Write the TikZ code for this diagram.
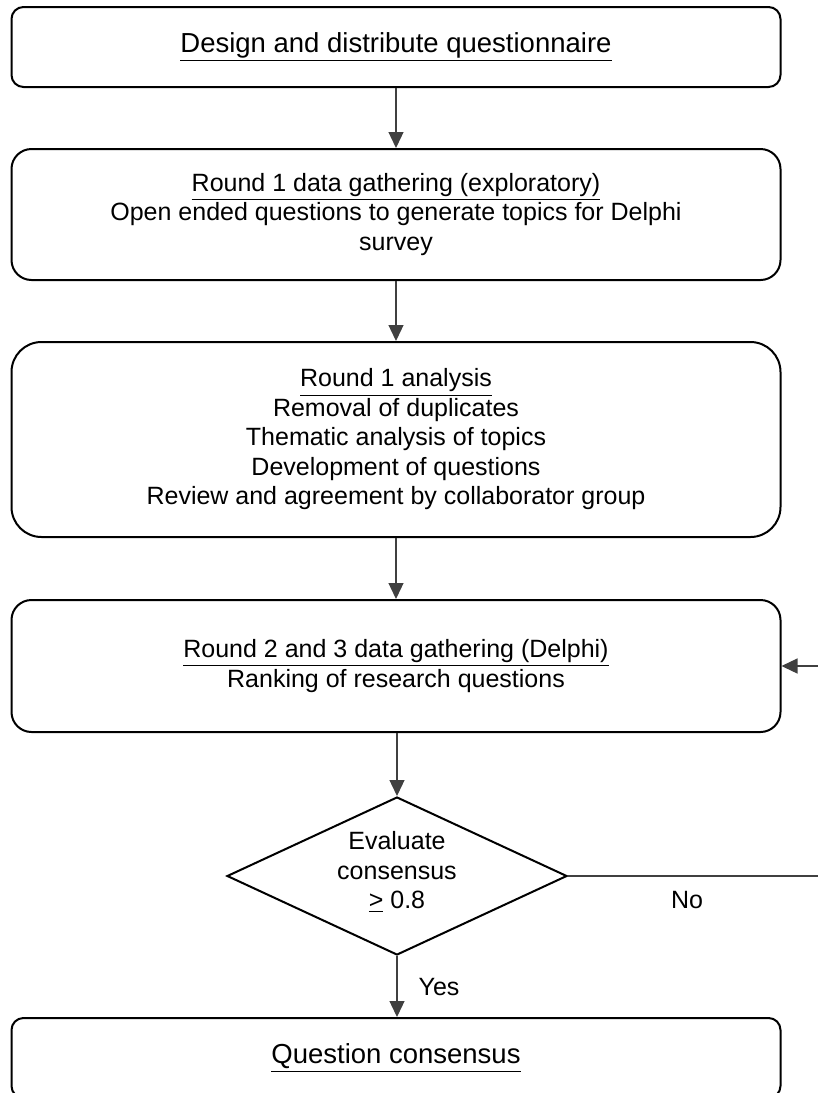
\documentclass[tikz,border=0pt]{standalone}
\usepackage{fontspec}
\setmainfont{Liberation Sans}
\usetikzlibrary{shapes.geometric,arrows.meta}

\begin{document}
\begin{tikzpicture}[x=0.5pt,y=-0.5pt]
\tikzstyle{every node}+=[inner sep=0pt,font=\fontsize{12.5}{14.75}\selectfont,align=center]
\tikzstyle{stage}=[draw=black,line width=1pt,minimum width=384.5pt]
\tikzstyle{big}=[font=\fontsize{13.75}{16}\selectfont]
\tikzstyle{arr}=[draw=black!75,line width=0.65pt,-{Triangle[width=7.5pt,length=8pt]}]
\useasboundingbox (0,0) rectangle (818,1093);
\node [stage,big,rounded corners=6pt,minimum height=40pt] (design) at (396,47) {\underline{Design and distribute questionnaire}};
\node [stage,rounded corners=10pt,minimum height=65.5pt] (rone) at (396,214.5) {\underline{Round 1 data gathering (exploratory)}\\Open ended questions to generate topics for Delphi\\survey};
\node [stage,rounded corners=15pt,minimum height=97.5pt] (ana) at (396,439.5) {\underline{Round 1 analysis}\\Removal of duplicates\\Thematic analysis of topics\\Development of questions\\Review and agreement by collaborator group};
\node [stage,rounded corners=10pt,minimum height=66pt] (rtwo) at (396,666) {\underline{Round 2 and 3 data gathering (Delphi)}\\Ranking of research questions};
\node [draw=black,line width=1pt,diamond,minimum width=170pt,minimum height=79pt] (eval) at (397,876) {};
\node (evaltxt) at (397,872) {Evaluate\\consensus\\\underline{>} 0.8};
\node [stage,big,rounded corners=6pt,minimum height=40pt] (cons) at (396,1058) {\underline{Question consensus}};
\coordinate (fbl) at (822,876);
\coordinate (fbu) at (822,666);
\draw [arr] (design) -- (rone);
\draw [arr] (rone) -- (ana);
\draw [arr] (ana) -- (rtwo);
\draw [arr] (rtwo.south -| eval.north) -- (eval.north);
\draw [arr] (eval.south) -- (cons.north -| eval.south);
\draw [arr] (eval.east) -- (fbl) -- (fbu) -- (rtwo.east);
\node (no) at (687,900) {No};
\node (yes) at (439,987) {Yes};
\end{tikzpicture}
\end{document}
